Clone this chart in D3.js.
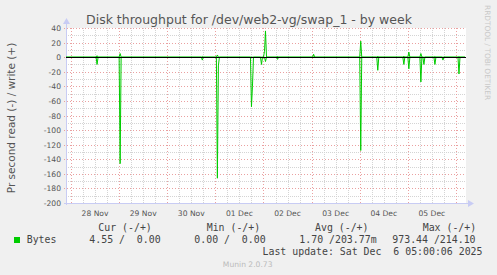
<!DOCTYPE html>
<html>
<head>
  <meta charset="UTF-8">
  <title>Disk throughput</title>
  <script src="https://cdn.jsdelivr.net/npm/d3@7"></script>
  <style>
    body { margin: 0; background: #f0f0f0; }
    svg { display: block; }
    .sans { font-family: "DejaVu Sans", sans-serif; }
    .mono { font-family: "DejaVu Sans Mono", monospace; white-space: pre; }
  </style>
</head>
<body>

<div class="chart"></div>

<script>

  // read series (bytes/s, drawn below zero) and write series (drawn above zero)
  var readTimes = [
    '2025-11-27 21:30', '2025-11-28 12:30', '2025-11-28 13:00', '2025-11-28 13:30',
    '2025-11-29 00:00', '2025-11-29 00:30', '2025-11-29 01:00',
    '2025-11-30 17:00', '2025-11-30 17:30', '2025-11-30 18:00',
    '2025-12-01 00:30', '2025-12-01 01:00', '2025-12-01 01:30', '2025-12-01 02:00',
    '2025-12-01 17:30', '2025-12-01 18:00', '2025-12-01 18:30', '2025-12-01 19:00',
    '2025-12-01 22:30', '2025-12-01 23:00', '2025-12-01 23:30',
    '2025-12-02 00:30', '2025-12-02 01:00', '2025-12-02 01:30',
    '2025-12-02 06:30', '2025-12-02 07:00', '2025-12-02 07:30',
    '2025-12-04 00:00', '2025-12-04 00:30', '2025-12-04 01:00',
    '2025-12-04 08:30', '2025-12-04 09:00', '2025-12-04 09:30',
    '2025-12-04 21:30', '2025-12-04 22:00', '2025-12-04 22:30',
    '2025-12-05 00:00', '2025-12-05 00:30', '2025-12-05 01:00',
    '2025-12-05 06:00', '2025-12-05 06:30', '2025-12-05 07:00',
    '2025-12-05 07:30', '2025-12-05 08:00', '2025-12-05 08:30',
    '2025-12-05 13:00', '2025-12-05 13:30', '2025-12-05 14:00',
    '2025-12-05 17:00', '2025-12-05 17:30', '2025-12-05 18:00',
    '2025-12-06 01:00', '2025-12-06 01:30', '2025-12-06 02:00',
    '2025-12-06 04:30'
  ];
  var readValues = [
    0, 0, 10, 0,
    0, 146, 0,
    0, 4, 0,
    0, 166, 12, 0,
    0, 68, 40, 0,
    0, 10, 0,
    0, 6, 0,
    0, 3, 0,
    0, 128, 0,
    0, 18, 0,
    0, 10, 0,
    0, 16, 0,
    0, 34, 0,
    0, 10, 0,
    0, 10, 0,
    0, 4, 0,
    0, 23, 0,
    0
  ];

  var writeTimes = [
    '2025-11-27 21:30', '2025-11-28 12:30', '2025-11-28 13:00', '2025-11-28 13:30',
    '2025-11-29 00:00', '2025-11-29 00:30', '2025-11-29 01:00',
    '2025-11-30 17:00', '2025-11-30 17:30', '2025-11-30 18:00',
    '2025-12-01 00:30', '2025-12-01 01:00', '2025-12-01 01:30',
    '2025-12-02 00:00', '2025-12-02 00:30', '2025-12-02 01:00', '2025-12-02 01:30',
    '2025-12-02 06:30', '2025-12-02 07:00', '2025-12-02 07:30',
    '2025-12-03 00:30', '2025-12-03 01:00', '2025-12-03 01:30',
    '2025-12-04 00:00', '2025-12-04 00:30', '2025-12-04 01:00',
    '2025-12-04 08:30', '2025-12-04 09:00', '2025-12-04 09:30',
    '2025-12-04 21:30', '2025-12-04 22:00', '2025-12-04 22:30',
    '2025-12-05 00:00', '2025-12-05 00:30', '2025-12-05 01:00',
    '2025-12-05 06:00', '2025-12-05 06:30', '2025-12-05 07:00',
    '2025-12-05 13:00', '2025-12-05 13:30', '2025-12-05 14:00',
    '2025-12-06 01:00', '2025-12-06 01:30', '2025-12-06 02:00',
    '2025-12-06 04:30'
  ];
  var writeValues = [
    0, 0, 2, 0,
    0, 5, 0,
    0, 1, 0,
    0, 3, 0,
    0, 8, 36, 0,
    0, 1.5, 0,
    0, 4, 0,
    0, 22, 0,
    0, 1.5, 0,
    0, 1.5, 0,
    0, 7, 0,
    0, 5, 0,
    0, 1, 0,
    0, 1, 0,
    0
  ];

  var yTicks = [40, 20, 0, -20, -40, -60, -80, -100, -120, -140, -160, -180, -200];
  var dayLabels = ['28 Nov', '29 Nov', '30 Nov', '01 Dec', '02 Dec', '03 Dec', '04 Dec', '05 Dec'];

  var legendHeaders = ['Cur (-/+)', 'Min (-/+)', 'Avg (-/+)', 'Max (-/+)'];
  var legendValues = ['4.55 /  0.00', '0.00 /  0.00', '1.70 /203.77m', '973.44 /214.10'];

  var W = 497, H = 275;
  var plot = { left: 66, right: 466, top: 28, bottom: 203 };

  var parseTime = d3.timeParse('%Y-%m-%d %H:%M');
  var tStart = parseTime('2025-11-27 21:30');
  var tEnd = parseTime('2025-12-06 05:00');

  var svg = d3.select('.chart')
    .append('svg')
      .attr('width', W)
      .attr('height', H);

  var xScale = d3.scaleTime().domain([tStart, tEnd]).range([plot.left, plot.right]);
  var yScale = d3.scaleLinear().domain([-200, 40]).range([plot.bottom, plot.top]);

  // plot background
  svg.append('rect')
    .attr('x', plot.left).attr('y', plot.top)
    .attr('width', plot.right - plot.left).attr('height', plot.bottom - plot.top)
    .attr('fill', '#ffffff');

  var grid = svg.append('g').attr('shape-rendering', 'crispEdges');

  // minor grid: every 10 units / 6 hours
  var minorY = d3.range(-190, 40, 20);
  grid.selectAll('.minor-y').data(minorY).enter().append('line')
    .attr('x1', plot.left).attr('x2', plot.right)
    .attr('y1', d => Math.round(yScale(d)) + 0.5).attr('y2', d => Math.round(yScale(d)) + 0.5)
    .attr('stroke', '#d4d4d4').attr('stroke-dasharray', '1,1');

  var minorX = d3.timeHour.every(6).range(tStart, tEnd).filter(d => d.getHours() !== 0);
  grid.selectAll('.minor-x').data(minorX).enter().append('line')
    .attr('x1', d => Math.round(xScale(d)) + 0.5).attr('x2', d => Math.round(xScale(d)) + 0.5)
    .attr('y1', plot.top).attr('y2', plot.bottom)
    .attr('stroke', '#d4d4d4').attr('stroke-dasharray', '1,1');

  // major grid
  grid.selectAll('.major-y').data(yTicks).enter().append('line')
    .attr('x1', plot.left - 2).attr('x2', plot.right)
    .attr('y1', d => Math.round(yScale(d)) + 0.5).attr('y2', d => Math.round(yScale(d)) + 0.5)
    .attr('stroke', '#eaa0a0').attr('stroke-dasharray', '1,2');

  var days = d3.timeDay.range(tStart, tEnd);
  grid.selectAll('.major-x').data(days).enter().append('line')
    .attr('x1', d => Math.round(xScale(d)) + 0.5).attr('x2', d => Math.round(xScale(d)) + 0.5)
    .attr('y1', plot.top).attr('y2', plot.bottom + 2)
    .attr('stroke', '#eaa0a0').attr('stroke-dasharray', '1,2');

  // axes (light blue with arrow heads)
  var axisColor = '#c8ccf4';
  svg.append('line')
    .attr('x1', plot.left + 0.5).attr('x2', plot.left + 0.5)
    .attr('y1', plot.bottom + 2).attr('y2', plot.top - 6)
    .attr('stroke', axisColor).attr('shape-rendering', 'crispEdges');
  svg.append('path')
    .attr('d', `M${plot.left - 3},${plot.top - 4} L${plot.left + 0.5},${plot.top - 10} L${plot.left + 4},${plot.top - 4} Z`)
    .attr('fill', axisColor);
  svg.append('line')
    .attr('x1', plot.left - 2).attr('x2', plot.right + 4)
    .attr('y1', plot.bottom + 0.5).attr('y2', plot.bottom + 0.5)
    .attr('stroke', axisColor).attr('shape-rendering', 'crispEdges');
  svg.append('path')
    .attr('d', `M${plot.right + 2},${plot.bottom - 3} L${plot.right + 8},${plot.bottom + 0.5} L${plot.right + 2},${plot.bottom + 4} Z`)
    .attr('fill', axisColor);

  // y tick labels
  svg.selectAll('.ylab').data(yTicks).enter().append('text')
    .attr('class', 'sans')
    .attr('x', 61).attr('y', d => yScale(d) + 3)
    .attr('text-anchor', 'end')
    .attr('font-size', '7.6px').attr('fill', '#555')
    .text(d => d);

  // x tick labels, centred at noon
  svg.selectAll('.xlab').data(days).enter().append('text')
    .attr('class', 'sans')
    .attr('x', d => xScale(d3.timeHour.offset(d, 12)))
    .attr('y', 216)
    .attr('text-anchor', 'middle')
    .attr('font-size', '7.6px').attr('fill', '#555')
    .text((d, i) => dayLabels[i]);

  // data lines
  var readData = readTimes.map((t, i) => ({ t: parseTime(t), v: -readValues[i] }));
  var writeData = writeTimes.map((t, i) => ({ t: parseTime(t), v: writeValues[i] }));

  var line = d3.line()
    .x(d => xScale(d.t))
    .y(d => yScale(d.v));

  svg.selectAll('.series')
    .data([readData, writeData])
    .enter()
    .append('path')
    .attr('d', d => line(d))
    .attr('fill', 'none')
    .attr('stroke', '#00cc00')
    .attr('stroke-width', 1);

  // zero rule
  svg.append('line')
    .attr('x1', plot.left).attr('x2', plot.right)
    .attr('y1', Math.round(yScale(0)) + 0.5).attr('y2', Math.round(yScale(0)) + 0.5)
    .attr('stroke', '#000').attr('shape-rendering', 'crispEdges');

  // title
  svg.append('text')
    .attr('class', 'sans')
    .attr('x', 249).attr('y', 24)
    .attr('text-anchor', 'middle')
    .attr('font-size', '12.5px').attr('fill', '#555')
    .text('Disk throughput for /dev/web2-vg/swap_1 - by week');

  // vertical axis label
  svg.append('text')
    .attr('class', 'sans')
    .attr('transform', 'translate(15,118) rotate(-90)')
    .attr('text-anchor', 'middle')
    .attr('font-size', '10.5px').attr('fill', '#555')
    .text('Pr second read (-) / write (+)');

  // rrdtool credit on the right edge
  svg.append('text')
    .attr('class', 'sans')
    .attr('transform', 'translate(485,5) rotate(90)')
    .attr('font-size', '7.4px').attr('fill', '#c8c8c8')
    .text('RRDTOOL / TOBI OETIKER');

  // legend
  var headerX = [98.3, 206.7, 315, 422.7];
  var valueX = [89.3, 194.3, 299.3, 392.3];

  svg.selectAll('.lhead').data(legendHeaders).enter().append('text')
    .attr('class', 'mono')
    .attr('x', (d, i) => headerX[i]).attr('y', 231)
    .attr('font-size', '9.9px').attr('fill', '#444')
    .text(d => d);

  svg.append('rect')
    .attr('x', 14).attr('y', 237).attr('width', 6).attr('height', 6)
    .attr('fill', '#00cc00');
  svg.append('text')
    .attr('class', 'mono')
    .attr('x', 26.7).attr('y', 243)
    .attr('font-size', '9.9px').attr('fill', '#444')
    .text('Bytes');

  svg.selectAll('.lval').data(legendValues).enter().append('text')
    .attr('class', 'mono')
    .attr('x', (d, i) => valueX[i]).attr('y', 243)
    .attr('font-size', '9.9px').attr('fill', '#444')
    .text(d => d);

  svg.append('text')
    .attr('class', 'mono')
    .attr('x', 482.5).attr('y', 255)
    .attr('text-anchor', 'end')
    .attr('font-size', '9.9px').attr('fill', '#444')
    .text('Last update: Sat Dec  6 05:00:06 2025');

  svg.append('text')
    .attr('class', 'sans')
    .attr('x', 247.7).attr('y', 266.5)
    .attr('text-anchor', 'middle')
    .attr('font-size', '7.6px').attr('fill', '#bbb')
    .text('Munin 2.0.73');

</script>

</body>
</html>
